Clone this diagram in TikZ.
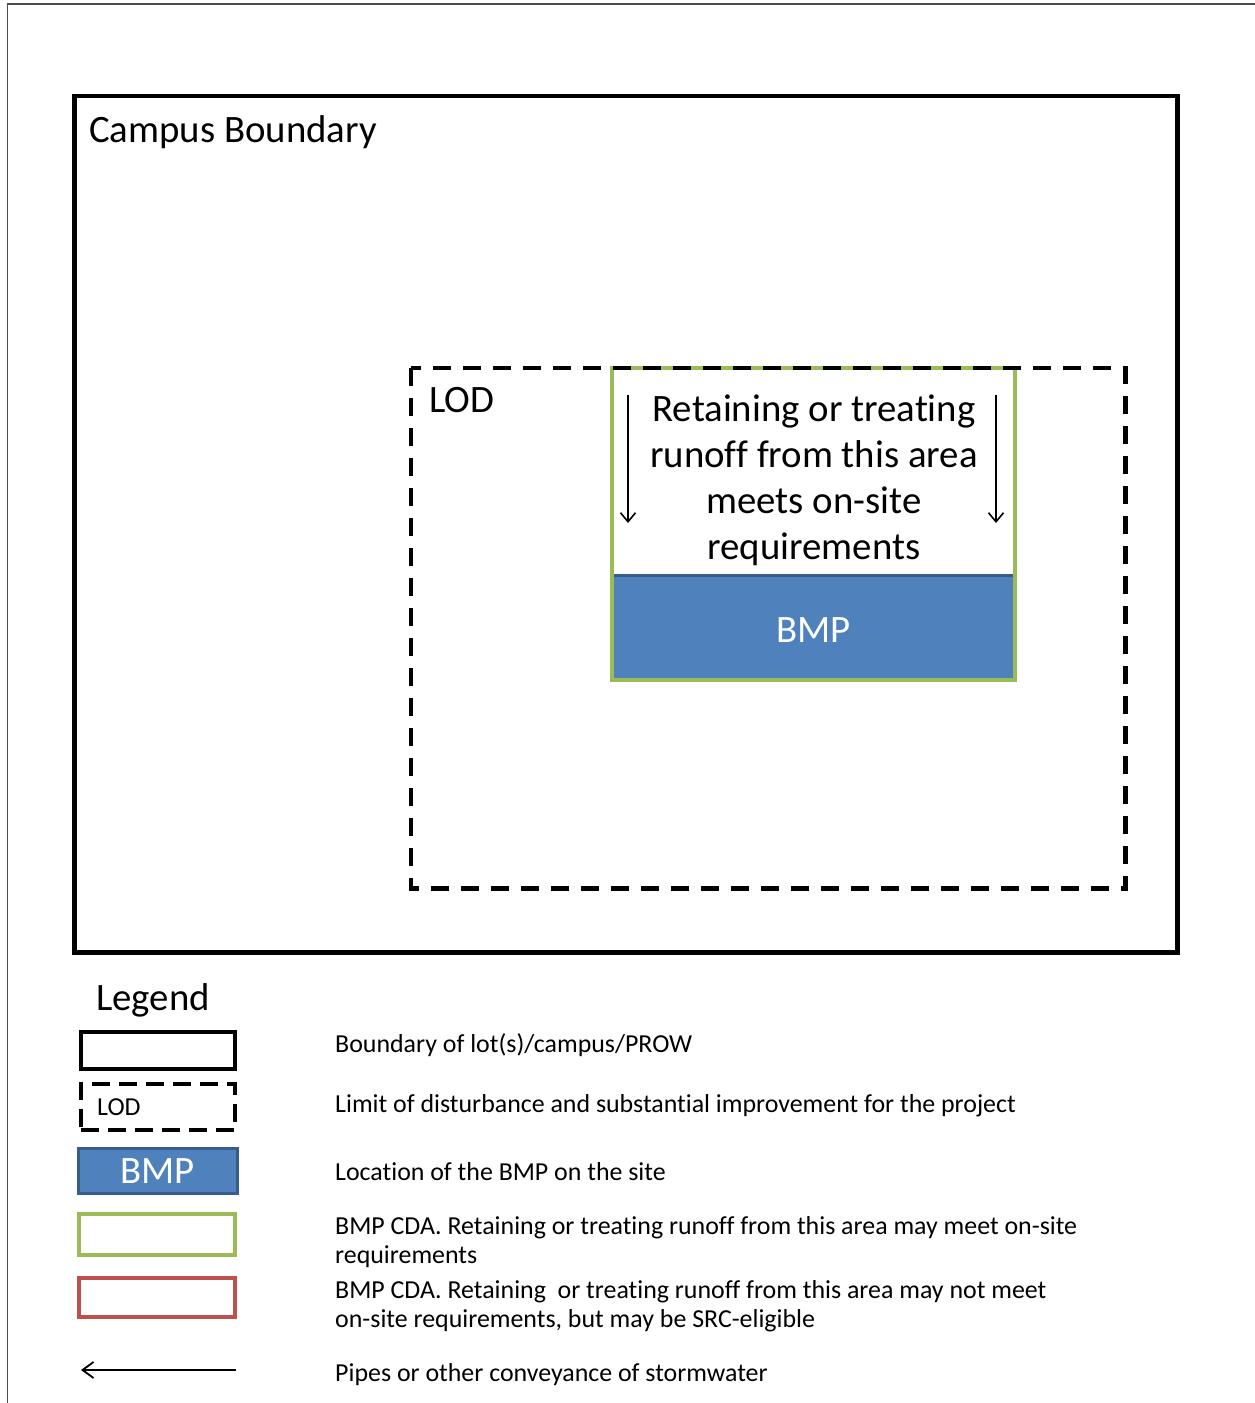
\documentclass[tikz,border=0pt]{standalone}
\usepackage{fontspec}
\setmainfont{Carlito}[Ligatures={NoCommon}]
\usetikzlibrary{arrows.meta}
\definecolor{cdaGreen}{HTML}{9BBB59}
\definecolor{bmpBlue}{HTML}{4F81BD}
\definecolor{bmpEdge}{HTML}{385D8A}
\definecolor{cdaRed}{HTML}{C0504D}
\newcommand{\bigFont}{\fontsize{38.8}{46}\selectfont}
\newcommand{\keyFont}{\fontsize{25.9}{28.5}\selectfont}
\begin{document}
\begin{tikzpicture}[x=1pt,y=-1pt,
    campusStyle/.style={draw,line width=4.5pt},
    lodStyle/.style={draw,line width=4.5pt,dash pattern=on 18pt off 12pt},
    cdaStyle/.style={draw=cdaGreen,line width=4pt},
    flowArrow/.style={-{Straight Barb[length=9pt,width=15pt]},line width=1.6pt},
    bigText/.style={font=\bigFont,inner sep=0pt,anchor=base west},
    keyText/.style={font=\keyFont,inner sep=0pt,anchor=base west,align=left},
    keyBox/.style={minimum width=154pt,minimum height=37pt,inner sep=0pt},
]
\useasboundingbox (0,0) rectangle (1255,1403);
% Page frame
\draw[line width=1.5pt, black!70] (7.5,1403) -- (7.5,4) -- (1255,4);
% Campus boundary
\draw[campusStyle] (74.5,96) rectangle (1177.5,952.5);
\node[bigText] (campusLbl) at (89,142) {Campus Boundary};
% BMP drainage area and BMP
\fill[bmpBlue] (612,575) rectangle (1015,680);
\draw[bmpEdge, line width=3pt] (612,575) -- (1015,575);
\draw[cdaStyle] (612,368) rectangle (1015,680);
\node[font=\bigFont, text=white, inner sep=0pt, anchor=base] (bmpLbl) at (813.5,642) {BMP};
% (multi-line node: base = last line)
\node[font=\bigFont, align=center, inner sep=0pt, anchor=base] (areaLbl) at (814,559)
    {Retaining or treating\\runoff from this area\\meets on-site\\requirements};
\coordinate (flowLa) at (628,395);
\coordinate (flowLb) at (628,523);
\coordinate (flowRa) at (996,395);
\coordinate (flowRb) at (996,523);
\draw[flowArrow] (flowLa) -- (flowLb);
\draw[flowArrow] (flowRa) -- (flowRb);
% Limit of disturbance
\draw[lodStyle] (411,368) rectangle (1125.5,888.5);
\node[bigText] (lodLbl) at (429,412) {LOD};
% Legend
\node[bigText] (legendLbl) at (96,1010) {Legend};
\node[keyBox, campusStyle, line width=4pt] (keyCampus) at (158.3,1050.3) {};
\node[keyBox, draw, line width=4pt, dash pattern=on 18pt off 9pt, minimum height=45.5pt] (keyLod) at (157.5,1106.8) {};
\node[font=\keyFont, inner sep=0pt, anchor=base west] (keyLodLbl) at (97,1115) {LOD};
\node[keyBox, fill=bmpBlue, draw=bmpEdge, line width=3pt, minimum width=159pt, minimum height=45.5pt,
      text=white, font=\bigFont] (keyBmp) at (157.5,1170.8) {BMP};
\node[keyBox, cdaStyle, minimum width=156pt, minimum height=41pt] (keyCda) at (156.7,1234.2) {};
\node[keyBox, draw=cdaRed, line width=4pt, minimum width=155.4pt, minimum height=39.3pt] (keySrc) at (157,1297.7) {};
\coordinate (pipeA) at (236,1370);
\coordinate (pipeB) at (81,1370);
\draw[-{Straight Barb[length=11pt,width=16pt]}, line width=1.8pt] (pipeA) -- (pipeB);
% Legend texts
\node[keyText] (txtCampus) at (335,1052) {Boundary of lot(s)/campus/PROW};
\node[keyText] (txtLod) at (335,1112) {Limit of disturbance and substantial improvement for the project};
\node[keyText] (txtBmp) at (335,1180) {Location of the BMP on the site};
\node[keyText] (txtCda) at (335,1263) {BMP CDA. Retaining or treating runoff from this area may meet on-site\\requirements};
\node[keyText] (txtSrc) at (335,1327) {BMP CDA. Retaining\ \ or treating runoff from this area may not meet\\on-site requirements, but may be SRC-eligible};
\node[keyText] (txtPipe) at (335,1381) {Pipes or other conveyance of stormwater};
\end{tikzpicture}
\end{document}
